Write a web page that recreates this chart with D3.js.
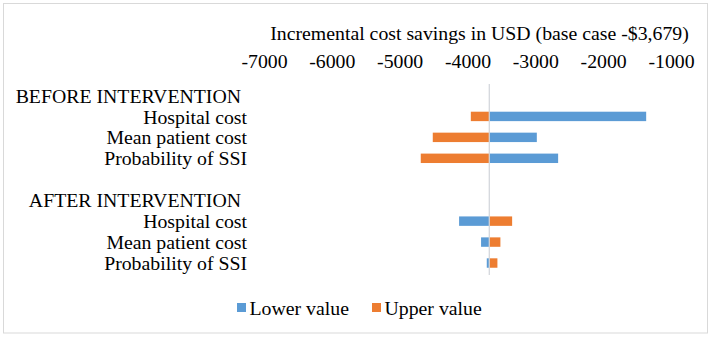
<!DOCTYPE html>
<html>
<head>
<meta charset="utf-8">
<script src="https://cdn.jsdelivr.net/npm/d3@7"></script>
<style>
  body { margin: 0; background: #fff; }
  svg text { font-family: "Liberation Serif", "Times New Roman", serif; fill: #000; }
</style>
</head>
<body>
<div id="vis"></div>
<script>
// Tornado chart: incremental cost savings, before vs after intervention.

const BASE_CASE = -3679;
const TITLE = "Incremental cost savings in USD (base case -$3,679)";

const CATEGORIES = [
  "BEFORE INTERVENTION", "Hospital cost", "Mean patient cost", "Probability of SSI",
  "",
  "AFTER INTERVENTION", "Hospital cost", "Mean patient cost", "Probability of SSI",
];
const IS_HEADER = [true, false, false, false, false, true, false, false, false];

const LOWER_VALUE = [null, -1366, -2978, -2664, null, null, -4124, -3800, -3716];
const UPPER_VALUE = [null, -3951, -4512, -4689, null, null, -3342, -3515, -3559];

const X_TICKS = [-7000, -6000, -5000, -4000, -3000, -2000, -1000];

const SERIES = [
  { label: "Lower value", values: LOWER_VALUE, color: "#5b9bd5" },
  { label: "Upper value", values: UPPER_VALUE, color: "#ed7d31" },
];

const W = 715, H = 337;
const FONT = "19.8px";

const svg = d3.select("#vis").append("svg").attr("width", W).attr("height", H);

// chart border
svg.append("rect")
  .attr("x", 3.5).attr("y", 3.5).attr("width", 704).attr("height", 329.5)
  .attr("fill", "none").attr("stroke", "#d9d9d9").attr("stroke-width", 1);

const x = d3.scaleLinear().domain([-7000, -1000]).range([264, 671]);
const y = d3.scaleBand().domain(d3.range(CATEGORIES.length)).range([85, 273.5]).paddingInner(0.55).paddingOuter(0.275);

// axis title
svg.append("text")
  .attr("x", 479.5).attr("y", 40).attr("text-anchor", "middle")
  .style("font-size", FONT).text(TITLE);

// top axis
svg.append("g")
  .attr("transform", "translate(0,68)")
  .call(d3.axisTop(x).tickValues(X_TICKS).tickSize(0).tickPadding(0).tickFormat(d => String(d).replace("−", "-")))
  .call(ax => ax.select(".domain").remove())
  .selectAll("text")
  .attr("y", 0).attr("dy", 0)
  .style("font-size", FONT).style("font-family", "Liberation Serif, serif").style("fill", "#000");

// category labels
CATEGORIES.forEach((c, i) => {
  if (!c) return;
  svg.append("text")
    .attr("x", IS_HEADER[i] ? 241 : 247)
    .attr("y", y(i) + y.bandwidth() / 2)
    .attr("dy", "0.36em")
    .attr("text-anchor", "end")
    .style("font-size", FONT)
    .text(c);
});

// bars
SERIES.forEach(s => {
  s.values.forEach((v, i) => {
    if (v == null) return;
    const x0 = Math.min(x(v), x(BASE_CASE)), x1 = Math.max(x(v), x(BASE_CASE));
    svg.append("rect")
      .attr("x", x0).attr("y", y(i)).attr("width", x1 - x0).attr("height", y.bandwidth())
      .attr("fill", s.color);
  });
});

// base case line
svg.append("line")
  .attr("x1", x(BASE_CASE)).attr("x2", x(BASE_CASE))
  .attr("y1", 84).attr("y2", 275)
  .attr("stroke", "#d0d4d9").attr("stroke-width", 1.2);

// legend
const legendX = [237, 372];
SERIES.forEach((s, i) => {
  svg.append("rect")
    .attr("x", legendX[i]).attr("y", 303).attr("width", 9).attr("height", 9)
    .attr("fill", s.color);
  svg.append("text")
    .attr("x", legendX[i] + 12.5).attr("y", 314.5)
    .style("font-size", FONT)
    .text(s.label);
});
</script>
</body>
</html>
